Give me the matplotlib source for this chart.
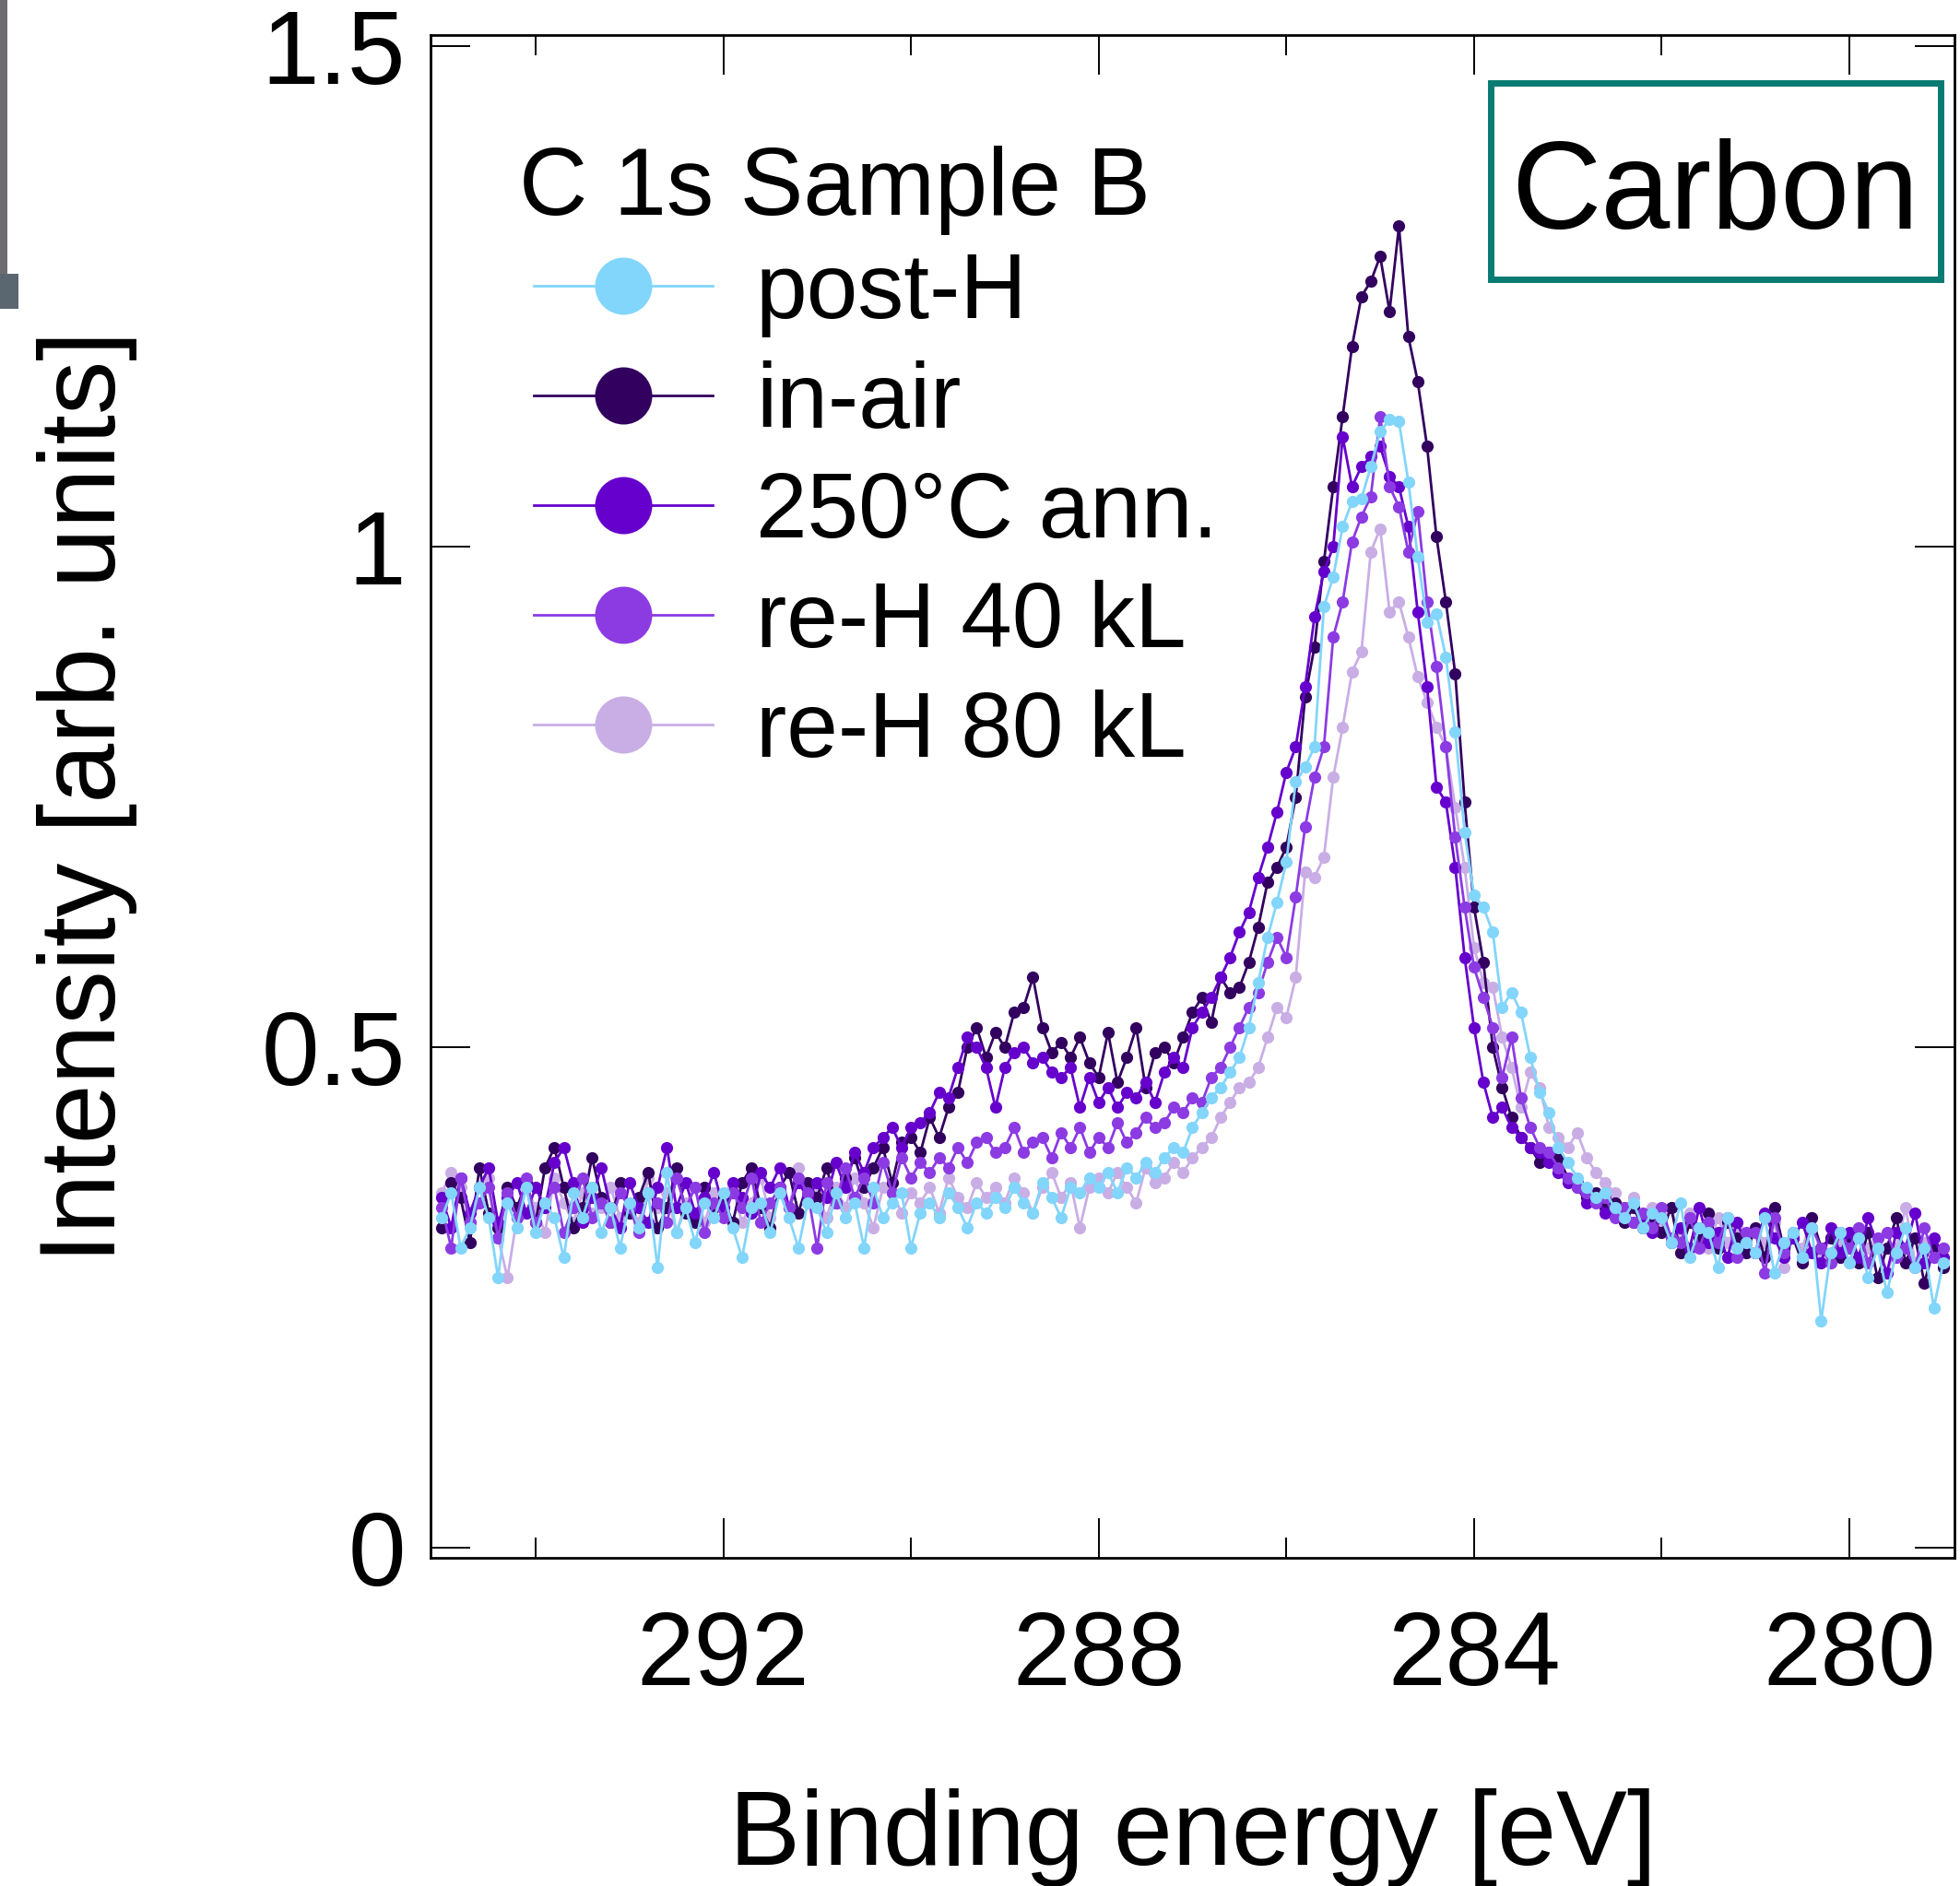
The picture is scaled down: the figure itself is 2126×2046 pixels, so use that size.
import numpy as np
import matplotlib
matplotlib.use("Agg")
import matplotlib.pyplot as plt
from matplotlib.patches import Rectangle

plt.rcParams['font.family'] = ['Liberation Sans', 'DejaVu Sans']

# binding energy grid [eV], 0.1 eV steps from 295.0 down to 279.0
energy = np.round(np.linspace(295.0, 279.0, 161), 2)

# intensities (arb. units), one row = 1 eV
post_h = [
    0.33, 0.355, 0.30, 0.32, 0.36, 0.33, 0.27, 0.345, 0.32, 0.36,
    0.315, 0.345, 0.33, 0.29, 0.355, 0.33, 0.36, 0.315, 0.34, 0.30,
    0.345, 0.32, 0.355, 0.28, 0.375, 0.315, 0.34, 0.305, 0.345, 0.33,
    0.355, 0.32, 0.29, 0.34, 0.345, 0.315, 0.355, 0.33, 0.30, 0.345,
    0.34, 0.315, 0.355, 0.33, 0.345, 0.30, 0.36, 0.33, 0.345, 0.355,
    0.30, 0.335, 0.345, 0.33, 0.355, 0.34, 0.32, 0.345, 0.335, 0.35,
    0.34, 0.36, 0.345, 0.335, 0.365, 0.35, 0.33, 0.36, 0.355, 0.37,
    0.36, 0.375, 0.355, 0.38, 0.37, 0.385, 0.375, 0.39, 0.40, 0.395,
    0.42, 0.435, 0.45, 0.46, 0.475, 0.49, 0.52, 0.565, 0.61, 0.645,
    0.685, 0.765, 0.78, 0.80, 0.94, 0.97, 1.02, 1.045, 1.048, 1.08,
    1.115, 1.127, 1.125, 1.065, 0.99, 0.925, 0.933, 0.89, 0.815, 0.715,
    0.652, 0.64, 0.615, 0.54, 0.555, 0.535, 0.49, 0.455, 0.435, 0.40,
    0.385, 0.37, 0.36, 0.35, 0.355, 0.34, 0.33, 0.345, 0.32, 0.335,
    0.33, 0.305, 0.345, 0.29, 0.32, 0.315, 0.28, 0.33, 0.30, 0.305,
    0.295, 0.33, 0.275, 0.305, 0.315, 0.29, 0.32, 0.227, 0.295, 0.315,
    0.285, 0.31, 0.27, 0.30, 0.255, 0.295, 0.32, 0.28, 0.30, 0.24, 0.285,
]
in_air = [
    0.32, 0.365, 0.35, 0.305, 0.38, 0.335, 0.32, 0.36, 0.34, 0.365,
    0.325, 0.38, 0.40, 0.36, 0.32, 0.34, 0.39, 0.35, 0.325, 0.365,
    0.335, 0.35, 0.375, 0.32, 0.34, 0.38, 0.335, 0.325, 0.36, 0.34,
    0.35, 0.325, 0.365, 0.38, 0.34, 0.32, 0.36, 0.375, 0.335, 0.365,
    0.35, 0.38, 0.345, 0.37, 0.39, 0.36, 0.38, 0.40, 0.365, 0.405,
    0.41, 0.395, 0.43, 0.41, 0.44, 0.455, 0.50, 0.52, 0.49, 0.515,
    0.50, 0.535, 0.54, 0.57, 0.52, 0.495, 0.505, 0.49, 0.51, 0.485,
    0.47, 0.515, 0.465, 0.49, 0.52, 0.46, 0.495, 0.50, 0.485, 0.51,
    0.535, 0.55, 0.525, 0.57, 0.555, 0.56, 0.585, 0.62, 0.665, 0.68,
    0.70, 0.75, 0.85, 0.90, 0.985, 1.06, 1.13, 1.20, 1.25, 1.265,
    1.29, 1.235, 1.32, 1.21, 1.165, 1.10, 1.01, 0.945, 0.873, 0.745,
    0.64, 0.585, 0.50, 0.46, 0.43, 0.41, 0.40, 0.385, 0.395, 0.39,
    0.37, 0.365, 0.35, 0.355, 0.34, 0.345, 0.325, 0.34, 0.32, 0.33,
    0.315, 0.34, 0.295, 0.325, 0.31, 0.335, 0.30, 0.325, 0.31, 0.295,
    0.32, 0.29, 0.34, 0.30, 0.31, 0.285, 0.33, 0.30, 0.31, 0.29,
    0.31, 0.285, 0.315, 0.27, 0.30, 0.33, 0.285, 0.31, 0.265, 0.30, 0.28,
]
ann_250 = [
    0.35, 0.32, 0.37, 0.335, 0.36, 0.38, 0.325, 0.35, 0.365, 0.335,
    0.36, 0.34, 0.385, 0.40, 0.365, 0.325, 0.35, 0.38, 0.34, 0.32,
    0.365, 0.34, 0.325, 0.36, 0.40, 0.34, 0.365, 0.335, 0.35, 0.375,
    0.34, 0.365, 0.35, 0.335, 0.375, 0.36, 0.38, 0.34, 0.365, 0.35,
    0.365, 0.35, 0.385, 0.36, 0.395, 0.375, 0.40, 0.41, 0.42, 0.40,
    0.42, 0.425, 0.435, 0.455, 0.45, 0.48, 0.51, 0.50, 0.48, 0.44,
    0.48, 0.495, 0.50, 0.485, 0.49, 0.475, 0.47, 0.48, 0.44, 0.47,
    0.445, 0.46, 0.44, 0.455, 0.45, 0.465, 0.445, 0.475, 0.49, 0.48,
    0.52, 0.535, 0.55, 0.57, 0.59, 0.615, 0.635, 0.67, 0.70, 0.735,
    0.775, 0.80, 0.86, 0.93, 0.975, 1.00, 1.11, 1.06, 1.08, 1.09,
    1.10, 1.07, 1.06, 1.02, 0.935, 0.86, 0.76, 0.745, 0.68, 0.59,
    0.52, 0.465, 0.43, 0.44, 0.42, 0.41, 0.40, 0.395, 0.385, 0.375,
    0.365, 0.36, 0.345, 0.35, 0.335, 0.34, 0.33, 0.325, 0.33, 0.315,
    0.33, 0.305, 0.32, 0.30, 0.34, 0.305, 0.315, 0.29, 0.325, 0.305,
    0.295, 0.335, 0.31, 0.29, 0.31, 0.325, 0.295, 0.285, 0.32, 0.295,
    0.315, 0.29, 0.33, 0.30, 0.275, 0.315, 0.30, 0.335, 0.285, 0.31, 0.29,
]
reh_40 = [
    0.34, 0.30, 0.37, 0.325, 0.345, 0.36, 0.31, 0.355, 0.33, 0.37,
    0.325, 0.345, 0.36, 0.315, 0.34, 0.37, 0.33, 0.345, 0.325, 0.355,
    0.34, 0.315, 0.355, 0.345, 0.325, 0.37, 0.34, 0.36, 0.315, 0.345,
    0.33, 0.355, 0.34, 0.37, 0.325, 0.345, 0.36, 0.34, 0.37, 0.355,
    0.30, 0.365, 0.345, 0.38, 0.35, 0.37, 0.345, 0.385, 0.355, 0.39,
    0.37, 0.385, 0.375, 0.39, 0.38, 0.40, 0.385, 0.405, 0.41, 0.395,
    0.40, 0.42, 0.395, 0.405, 0.41, 0.39, 0.415, 0.40, 0.42, 0.395,
    0.41, 0.40, 0.425, 0.405, 0.415, 0.43, 0.42, 0.425, 0.44, 0.435,
    0.45, 0.445, 0.47, 0.48, 0.50, 0.52, 0.54, 0.555, 0.585, 0.61,
    0.59, 0.65, 0.72, 0.77, 0.80, 0.91, 0.945, 1.005, 1.03, 1.05,
    1.13, 1.06, 1.04, 0.995, 1.035, 0.945, 0.88, 0.80, 0.71, 0.64,
    0.58, 0.55, 0.52, 0.47, 0.51, 0.45, 0.42, 0.40, 0.395, 0.38,
    0.37, 0.36, 0.355, 0.345, 0.35, 0.33, 0.34, 0.325, 0.335, 0.32,
    0.34, 0.31, 0.305, 0.33, 0.30, 0.325, 0.305, 0.33, 0.29, 0.315,
    0.315, 0.275, 0.33, 0.295, 0.315, 0.29, 0.32, 0.30, 0.285, 0.315,
    0.30, 0.32, 0.285, 0.31, 0.315, 0.29, 0.30, 0.28, 0.32, 0.29, 0.30,
]
reh_80 = [
    0.355, 0.375, 0.36, 0.325, 0.345, 0.37, 0.31, 0.27, 0.33, 0.36,
    0.34, 0.315, 0.37, 0.345, 0.325, 0.355, 0.335, 0.34, 0.36, 0.33,
    0.345, 0.325, 0.37, 0.34, 0.355, 0.315, 0.345, 0.36, 0.325, 0.355,
    0.34, 0.36, 0.325, 0.345, 0.37, 0.33, 0.355, 0.34, 0.38, 0.345,
    0.355, 0.33, 0.36, 0.34, 0.37, 0.345, 0.32, 0.36, 0.355, 0.335,
    0.355, 0.345, 0.36, 0.335, 0.37, 0.35, 0.34, 0.365, 0.35, 0.36,
    0.345, 0.37, 0.355, 0.335, 0.36, 0.375, 0.35, 0.365, 0.32, 0.36,
    0.37, 0.355, 0.375, 0.36, 0.345, 0.38, 0.365, 0.37, 0.385, 0.375,
    0.39, 0.40, 0.41, 0.43, 0.445, 0.46, 0.465, 0.48, 0.51, 0.54,
    0.53, 0.57, 0.675, 0.67, 0.69, 0.77, 0.82, 0.875, 0.895, 0.995,
    1.018, 0.935, 0.945, 0.91, 0.87, 0.845, 0.82, 0.80, 0.74, 0.68,
    0.60, 0.565, 0.56, 0.51, 0.48, 0.44, 0.475, 0.46, 0.42, 0.41,
    0.40, 0.415, 0.39, 0.375, 0.365, 0.355, 0.34, 0.35, 0.33, 0.34,
    0.325, 0.34, 0.31, 0.335, 0.32, 0.30, 0.33, 0.305, 0.32, 0.295,
    0.32, 0.305, 0.325, 0.28, 0.31, 0.30, 0.33, 0.29, 0.31, 0.305,
    0.285, 0.32, 0.30, 0.31, 0.275, 0.30, 0.34, 0.285, 0.305, 0.29, 0.30,
]

labels = ["post-H", "in-air", "250°C ann.", "re-H 40 kL", "re-H 80 kL"]
series = [post_h, in_air, ann_250, reh_40, reh_80]
colors = ["#82D5FB", "#32005F", "#6600CC", "#8C3BE3", "#C9AEE5"]
# drawing order (bottom -> top): re-H 80, in-air, 250C, re-H 40, post-H
draw_order = [4, 1, 2, 3, 0]

x_ticks = [292, 288, 284, 280]
x_minor = [294, 290, 286, 282]
y_ticks = [0, 0.5, 1, 1.5]
y_ticklabels = ["0", "0.5", "1", "1.5"]

W, H = 2126, 2046
fig = plt.figure(figsize=(W / 100, H / 100), dpi=100)
ax = fig.add_axes([467 / W, 1 - 1690 / H, (2120 - 467) / W, (1690 - 38) / H])

handles = {}
for z, k in enumerate(draw_order):
    ln, = ax.plot(energy, series[k], '-o', color=colors[k], lw=2.0,
                  markersize=9.5, markeredgewidth=0, zorder=2 + z)
    handles[k] = ln

ax.set_xlim(295.12, 278.88)
ax.set_ylim(-0.0097, 1.511)
ax.set_xticks(x_ticks)
ax.set_xticks(x_minor, minor=True)
ax.set_yticks(y_ticks)
ax.set_yticklabels(y_ticklabels)
ax.tick_params(which='both', direction='in', top=True, right=True, width=1.4)
ax.tick_params(which='major', length=31, labelsize=81)
ax.tick_params(which='minor', length=16)
ax.tick_params(axis='x', which='major', pad=40)
ax.tick_params(axis='y', which='major', pad=19.5)
for sp in ax.spines.values():
    sp.set_linewidth(2.0)

ax.set_xlabel("Binding energy [eV]", fontsize=83)
ax.xaxis.set_label_coords(0.5, -0.2016)
ax.xaxis.label.set_va('baseline')
ax.set_ylabel("Intensity [arb. units]", fontsize=84)
ax.yaxis.set_label_coords(-0.2069, 0.5)
ax.yaxis.label.set_va('baseline')

# legend with a separate title line
fig.text(563 / W, 1 - 233 / H, "C 1s Sample B", fontsize=74, ha='left', va='baseline')
leg = fig.legend([handles[k] for k in range(5)], labels, loc='upper left',
                 bbox_to_anchor=(579 / W, 1 - 272 / H), frameon=False, fontsize=72,
                 markerscale=4.7, handlelength=1.94, handletextpad=0.47,
                 labelspacing=0.25, borderpad=0, borderaxespad=0)

# "Carbon" tag box
fig.add_artist(Rectangle((1617 / W, 1 - 303 / H), (2105 - 1617) / W, (303 - 90) / H,
                         transform=fig.transFigure, fill=False, edgecolor='#087B73', lw=5))
fig.text(1860 / W, 1 - 247 / H, "Carbon", fontsize=97, ha='center', va='baseline')

# clipped edge of the neighbouring panel (top left)
fig.add_artist(Rectangle((0, 1 - 300 / H), 8 / W, 300 / H, transform=fig.transFigure,
                         facecolor='#6e6b70', lw=0))
fig.add_artist(Rectangle((0, 1 - 335 / H), 20 / W, 38 / H, transform=fig.transFigure,
                         facecolor='#5b6770', lw=0))

fig.savefig("out.png", dpi=100)
